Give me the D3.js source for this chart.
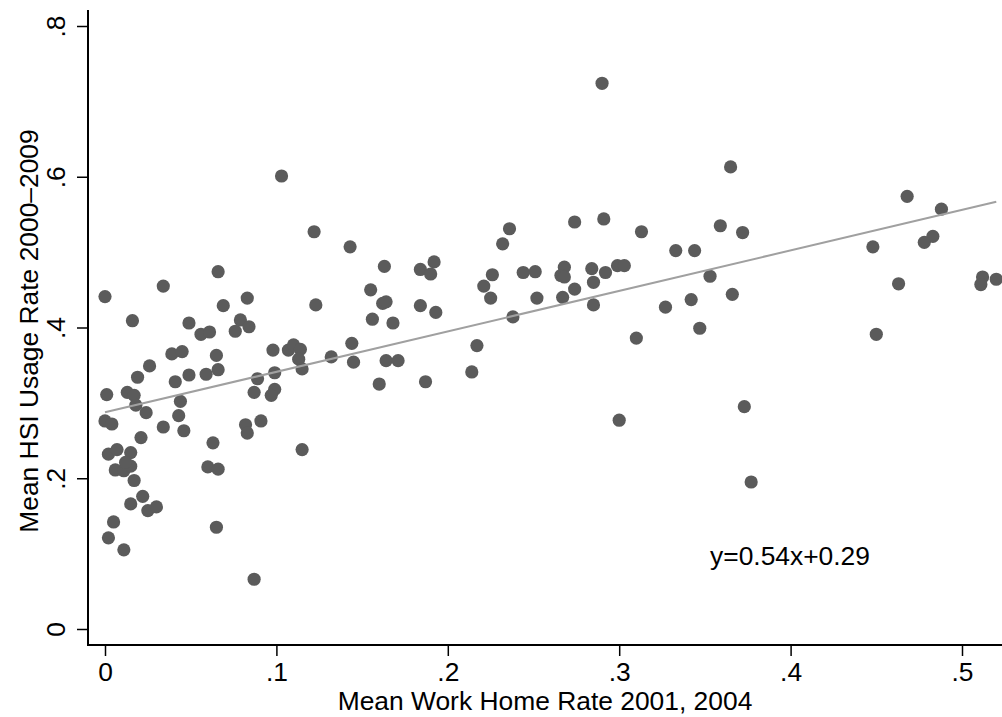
<!DOCTYPE html>
<html>
<head>
<meta charset="utf-8">
<script src="https://cdn.jsdelivr.net/npm/d3@7/dist/d3.min.js"></script>
<style>
  body { margin: 0; background: #fff; }
  text { font-family: "Liberation Sans", Arial, sans-serif; fill: #000; }
</style>
</head>
<body>
<svg id="mainsvg" width="1002" height="717"></svg>
<script>
// mean work-home rate 2001, 2004 (x) and mean HSI usage rate 2000-2009 (y)
const workHome = [
  0.066, 0.034, 0.000, 0.069, 0.016, 0.049, 0.079, 0.076, 0.084, 0.056,
  0.061, 0.039, 0.045, 0.065, 0.026, 0.019, 0.041, 0.049, 0.059, 0.066,
  0.001, 0.013, 0.017, 0.018, 0.024, 0.044, 0.043, 0.000, 0.004, 0.034,
  0.046, 0.021, 0.063, 0.002, 0.007, 0.015, 0.006, 0.011, 0.015, 0.012,
  0.017, 0.022, 0.015, 0.025, 0.030, 0.060, 0.066, 0.005, 0.002, 0.011,
  0.065, 0.082, 0.083, 0.083, 0.103, 0.122, 0.143, 0.163, 0.184, 0.192,
  0.190, 0.155, 0.162, 0.164, 0.123, 0.184, 0.193, 0.156, 0.168, 0.144,
  0.098, 0.107, 0.110, 0.114, 0.113, 0.115, 0.132, 0.145, 0.164, 0.171,
  0.160, 0.187, 0.089, 0.099, 0.087, 0.099, 0.097, 0.091, 0.115, 0.087,
  0.236, 0.232, 0.274, 0.291, 0.313, 0.226, 0.221, 0.225, 0.244, 0.251,
  0.268, 0.266, 0.268, 0.252, 0.267, 0.274, 0.284, 0.292, 0.285, 0.299,
  0.303, 0.285, 0.238, 0.217, 0.214, 0.310, 0.327, 0.290, 0.300, 0.365,
  0.359, 0.372, 0.333, 0.344, 0.353, 0.342, 0.366, 0.347, 0.373, 0.377,
  0.468, 0.488, 0.483, 0.478, 0.448, 0.463, 0.450, 0.512, 0.511, 0.520
];
const hsiUsage = [
  0.474, 0.455, 0.441, 0.429, 0.409, 0.406, 0.410, 0.395, 0.401, 0.391,
  0.394, 0.365, 0.368, 0.363, 0.349, 0.334, 0.328, 0.337, 0.338, 0.344,
  0.311, 0.314, 0.310, 0.297, 0.287, 0.302, 0.283, 0.276, 0.272, 0.268,
  0.263, 0.254, 0.247, 0.232, 0.238, 0.234, 0.211, 0.210, 0.216, 0.221,
  0.197, 0.176, 0.166, 0.157, 0.162, 0.215, 0.212, 0.142, 0.121, 0.105,
  0.135, 0.271, 0.260, 0.439, 0.601, 0.527, 0.507, 0.481, 0.477, 0.487,
  0.471, 0.450, 0.432, 0.434, 0.430, 0.429, 0.420, 0.411, 0.406, 0.379,
  0.370, 0.370, 0.377, 0.371, 0.358, 0.345, 0.361, 0.354, 0.356, 0.356,
  0.325, 0.328, 0.332, 0.340, 0.314, 0.318, 0.310, 0.276, 0.238, 0.066,
  0.531, 0.511, 0.540, 0.544, 0.527, 0.470, 0.455, 0.439, 0.473, 0.474,
  0.480, 0.469, 0.467, 0.439, 0.440, 0.451, 0.478, 0.473, 0.460, 0.482,
  0.482, 0.430, 0.414, 0.376, 0.341, 0.386, 0.427, 0.724, 0.277, 0.613,
  0.535, 0.526, 0.502, 0.502, 0.468, 0.437, 0.444, 0.399, 0.295, 0.195,
  0.574, 0.557, 0.521, 0.513, 0.507, 0.458, 0.391, 0.467, 0.457, 0.464
];
const xTicks = [0, 0.1, 0.2, 0.3, 0.4, 0.5];
const yTicks = [0, 0.2, 0.4, 0.6, 0.8];
const fitSlope = 0.537, fitIntercept = 0.2875;
const fitLabel = "y=0.54x+0.29";
const fitLabelAt = [0.353, 0.085];
const xTitle = "Mean Work Home Rate 2001, 2004";
const yTitle = "Mean HSI Usage Rate 2000\u20132009";

let svg = d3.select('#mainsvg');
const axisX = 88, axisY = 645, plotTop = 10, plotRight = 1002;
const fs = 26.4;

const x = d3.scaleLinear().domain([0, 0.5]).range([105, 962]);
const y = d3.scaleLinear().domain([0, 0.8]).range([629, 26]);
const fmt = d => d === 0 ? "0" : d3.format(".1f")(d).replace(/^0/, "");

// x axis
const gx = svg.append('g').attr('transform', `translate(0,${axisY})`)
  .call(d3.axisBottom(x).tickValues(xTicks).tickFormat(fmt).tickSize(11));
gx.select('.domain').remove();
gx.selectAll('.tick line').attr('stroke', '#000').attr('stroke-width', 1.5);
gx.selectAll('.tick text').attr('font-size', fs).attr('dy', null).attr('y', 36);

// y axis, labels rotated
const gy = svg.append('g').attr('transform', `translate(${axisX},0)`)
  .call(d3.axisLeft(y).tickValues(yTicks).tickFormat(fmt).tickSize(11));
gy.select('.domain').remove();
gy.selectAll('.tick line').attr('stroke', '#000').attr('stroke-width', 1.5);
gy.selectAll('.tick text')
  .attr('font-size', fs).attr('x', null).attr('dy', null)
  .attr('text-anchor', 'middle')
  .attr('transform', 'translate(-23,0) rotate(-90)');

// axis lines (left and bottom only)
svg.append('line').attr('x1', axisX).attr('x2', axisX).attr('y1', plotTop).attr('y2', axisY + 1)
  .attr('stroke', '#000').attr('stroke-width', 2);
svg.append('line').attr('x1', axisX - 1).attr('x2', plotRight).attr('y1', axisY).attr('y2', axisY)
  .attr('stroke', '#000').attr('stroke-width', 2);

// titles
svg.append('text').attr('x', 545).attr('y', 710).attr('text-anchor', 'middle')
  .attr('font-size', fs).text(xTitle);
svg.append('text').attr('transform', 'translate(38,331) rotate(-90)')
  .attr('text-anchor', 'middle').attr('font-size', fs).text(yTitle);

// points
const pts = workHome.map((d, i) => ({wh: d, hsi: hsiUsage[i]}));
svg.append('g').selectAll('circle').data(pts)
  .enter().append('circle')
  .attr('cx', d => x(d.wh))
  .attr('cy', d => y(d.hsi))
  .attr('r', 6.6)
  .attr('fill', '#5b5b5b');

// fitted line across data range
const ext = d3.extent(workHome);
svg.append('line')
  .attr('x1', x(ext[0])).attr('y1', y(fitSlope * ext[0] + fitIntercept))
  .attr('x2', x(ext[1])).attr('y2', y(fitSlope * ext[1] + fitIntercept))
  .attr('stroke', '#a0a0a0').attr('stroke-width', 2);

svg.append('text').attr('x', x(fitLabelAt[0])).attr('y', y(fitLabelAt[1]))
  .attr('font-size', fs).text(fitLabel);
</script>
</body>
</html>
